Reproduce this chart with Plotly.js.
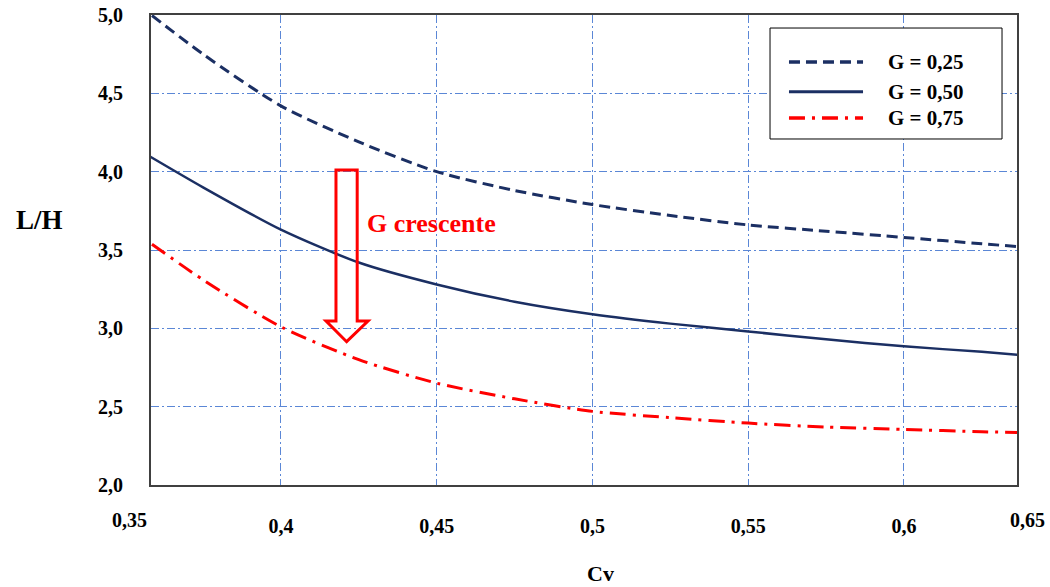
<!DOCTYPE html>
<html>
<head>
<meta charset="utf-8">
<script src="https://cdn.plot.ly/plotly-3.0.1.min.js"></script>
<style>html,body{margin:0;padding:0;background:#fff;}#chart{width:1050px;height:587px;}</style>
</head>
<body>
<div id="chart"></div>
<script>
// Cv values (x)
const cv = [0.35, 0.375, 0.40, 0.425, 0.45, 0.475, 0.50, 0.525, 0.55, 0.575, 0.60, 0.625, 0.65];
// L/H for each G
const g025 = [5.13, 4.75, 4.42, 4.19, 4.00, 3.88, 3.79, 3.72, 3.66, 3.62, 3.58, 3.54, 3.50];
const g050 = [4.19, 3.90, 3.63, 3.42, 3.28, 3.17, 3.09, 3.03, 2.98, 2.93, 2.885, 2.85, 2.81];
const g075 = [3.66, 3.31, 3.01, 2.80, 2.65, 2.55, 2.47, 2.43, 2.395, 2.37, 2.355, 2.34, 2.33];
const seriesNames = ["G = 0,25", "G = 0,50", "G = 0,75"];
const xTickVals = [0.40, 0.45, 0.50, 0.55, 0.60];
const yTickVals = [2.0, 2.5, 3.0, 3.5, 4.0, 4.5, 5.0];
const xEdgeLabels = ["0,35", "0,65"];

const serif = "Liberation Serif, Times New Roman, serif";
const navy = "#1b2f63";
const red = "#ff0000";
const gridBlue = "#5b87d6";

const styles = [
  {color: navy, width: 3, dash: "11px,6px"},
  {color: navy, width: 2.5, dash: "solid"},
  {color: red, width: 3, dash: "16px,7px,3px,7px"}
];
const seriesData = [g025, g050, g075];

const traces = seriesData.map((ys, i) => ({
  x: cv, y: ys, name: seriesNames[i], mode: "lines", showlegend: false,
  line: {color: styles[i].color, width: styles[i].width, dash: styles[i].dash, shape: "spline", smoothing: 0.7}
}));

const tickFont = {family: serif, size: 20, color: "#000", weight: "bold"};

// manual legend (paper coordinates)
const legendRows = [0.900, 0.8368, 0.7809];
const legendShapes = [
  {type: "rect", xref: "paper", yref: "paper", x0: 0.7148, x1: 0.9827, y0: 0.7362, y1: 0.9723,
   line: {color: "#000", width: 1}, fillcolor: "#fff", layer: "above"}
];
const legendTexts = [];
legendRows.forEach((yy, i) => {
  legendShapes.push({type: "line", xref: "paper", yref: "paper", x0: 0.7367, x1: 0.8222, y0: yy, y1: yy,
    line: {color: styles[i].color, width: styles[i].width + 0.5, dash: styles[i].dash}, layer: "above"});
  legendTexts.push({text: seriesNames[i], xref: "paper", yref: "paper", x: 0.8487, y: yy, xanchor: "left", yanchor: "middle",
    showarrow: false, font: {family: serif, size: 21, color: "#000", weight: "bold"}});
});

const layout = {
  width: 1050, height: 587,
  margin: {l: 151, r: 33, t: 15, b: 102},
  paper_bgcolor: "#fff", plot_bgcolor: "#fff",
  separators: ",.",
  showlegend: false,
  xaxis: {
    range: [0.3583, 0.6363],
    tickvals: xTickVals,
    showgrid: true, gridcolor: gridBlue, gridwidth: 1, griddash: "8px,3px,2px,3px",
    zeroline: false,
    showline: true, linecolor: "#404040", linewidth: 2, mirror: true,
    ticks: "", ticklabelstandoff: 22,
    tickfont: tickFont
  },
  yaxis: {
    range: [2, 5],
    tickvals: yTickVals, tickformat: ".1f",
    showgrid: true, gridcolor: gridBlue, gridwidth: 1, griddash: "8px,3px,2px,3px",
    zeroline: false,
    showline: true, linecolor: "#404040", linewidth: 2, mirror: true,
    ticks: "", ticklabelstandoff: 22,
    tickfont: tickFont
  },
  shapes: [
    {type: "path", xref: "paper", yref: "paper",
     path: "M 0.2136 0.6702 L 0.2381 0.6702 L 0.2381 0.3489 L 0.2506 0.3489 L 0.2259 0.3049 L 0.2021 0.3489 L 0.2136 0.3489 Z",
     line: {color: red, width: 3}, fillcolor: "rgba(0,0,0,0)"}
  ].concat(legendShapes),
  annotations: [
    {text: "G crescente", xref: "paper", yref: "paper", x: 0.247, y: 0.557, xanchor: "left", yanchor: "middle", showarrow: false,
     font: {family: serif, size: 26, color: red, weight: "bold"}},
    {text: "L/H", xref: "paper", yref: "paper", x: -0.1293, y: 0.5638, xanchor: "center", yanchor: "middle", showarrow: false,
     font: {family: serif, size: 27, color: "#000", weight: "bold"}},
    {text: "Cv", xref: "paper", yref: "paper", x: 0.5185, y: -0.188, xanchor: "center", yanchor: "middle", showarrow: false,
     font: {family: serif, size: 22, color: "#000", weight: "bold"}},
    {text: xEdgeLabels[0], xref: "paper", yref: "paper", x: -0.0254, y: -0.0745, xanchor: "center", yanchor: "middle", showarrow: false, font: tickFont},
    {text: xEdgeLabels[1], xref: "paper", yref: "paper", x: 1.0127, y: -0.0745, xanchor: "center", yanchor: "middle", showarrow: false, font: tickFont}
  ].concat(legendTexts)
};

Plotly.newPlot("chart", traces, layout, {displayModeBar: false, staticPlot: true});
</script>
</body>
</html>
